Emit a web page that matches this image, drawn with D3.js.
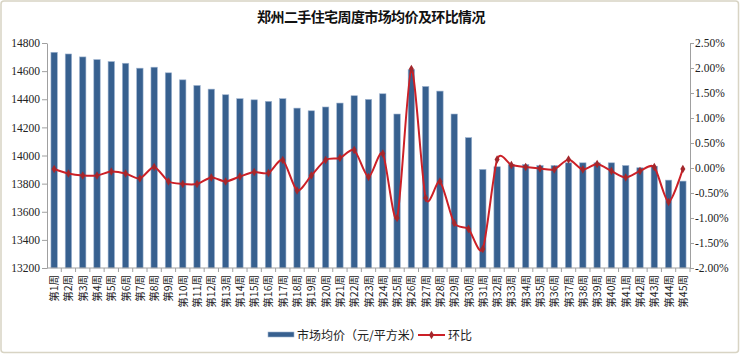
<!DOCTYPE html>
<html lang="zh">
<head>
<meta charset="UTF-8" />
<title>郑州二手住宅周度市场均价及环比情况</title>
<script src="https://cdn.jsdelivr.net/npm/d3@7/dist/d3.min.js"></script>
<style>
  body { margin: 0; background: #fff; }
  svg { display: block; }
</style>
</head>
<body>
<script>
// data
var weeks = [];
for (var k = 1; k <= 45; k++) weeks.push("第" + k + "周");

var prices = [14734, 14722, 14701, 14682, 14668, 14656, 14621, 14628, 14588, 14538,
              14498, 14472, 14432, 14404, 14396, 14385, 14404, 14337, 14318, 14345,
              14373, 14425, 14399, 14439, 14295, 14612, 14491, 14458, 14295, 14127,
              13901, 13920, 13936, 13936, 13929, 13929, 13948, 13948, 13948, 13948,
              13929, 13913, 13924, 13825, 13818];

var changes = [-0.02, -0.11, -0.15, -0.15, -0.07, -0.11, -0.21, 0.02, -0.27, -0.32,
               -0.32, -0.19, -0.27, -0.17, -0.08, -0.10, 0.16, -0.45, -0.15, 0.16,
               0.20, 0.36, -0.18, 0.29, -1.00, 1.98, -0.60, -0.27, -1.10, -1.22,
               -1.62, 0.17, 0.06, 0.02, -0.01, -0.03, 0.17, -0.03, 0.08, -0.06,
               -0.19, -0.06, 0.02, -0.68, -0.02];

var leftTicks = [13200, 13400, 13600, 13800, 14000, 14200, 14400, 14600, 14800];
var rightTicks = [-2, -1.5, -1, -0.5, 0, 0.5, 1, 1.5, 2, 2.5];

var W = 740, H = 354;
var margin = {top: 43, right: 50, bottom: 86, left: 47};
var pw = W - margin.left - margin.right;
var ph = H - margin.top - margin.bottom;

var svg = d3.select("body").append("svg").attr("width", W).attr("height", H);

// outer frame
svg.append("rect")
  .attr("x", 1).attr("y", 1).attr("width", W - 2.5).attr("height", H - 2.5)
  .attr("rx", 3)
  .attr("fill", "#fff").attr("stroke", "#d8d4c4").attr("stroke-width", 1.5);

svg.append("text")
  .attr("x", 371).attr("y", 22)
  .attr("text-anchor", "middle")
  .style("font-family", "'Noto Sans CJK SC', sans-serif")
  .style("font-weight", "bold").style("font-size", "14px")
  .style("letter-spacing", "-0.6px")
  .attr("fill", "#111")
  .text("郑州二手住宅周度市场均价及环比情况");

var g = svg.append("g").attr("transform", "translate(" + margin.left + "," + margin.top + ")");

var x = d3.scaleBand().domain(weeks).range([0, pw]);
var yL = d3.scaleLinear().domain([13200, 14800]).range([ph, 0]);
var yR = d3.scaleLinear().domain([-2, 2.5]).range([ph, 0]);

// bars
g.selectAll(".bar").data(prices).enter().append("rect")
  .attr("class", "bar")
  .attr("x", function(d, i) { return x(weeks[i]) + x.bandwidth() / 2 - 3.2; })
  .attr("y", function(d) { return yL(d); })
  .attr("width", 6.4)
  .attr("height", function(d) { return ph - yL(d); })
  .attr("fill", "#37608f")
  .attr("stroke", "#9fb4d0").attr("stroke-width", 0.6);

// left axis
var axL = g.append("g")
  .call(d3.axisLeft(yL).tickValues(leftTicks).tickSize(5).tickSizeOuter(0).tickFormat(d3.format("d")));
// right axis
var axR = g.append("g").attr("transform", "translate(" + pw + ",0)")
  .call(d3.axisRight(yR).tickValues(rightTicks).tickSize(4).tickSizeOuter(0)
    .tickFormat(function(d) { return d.toFixed(2) + "%"; }));
[axL, axR].forEach(function(a) {
  a.select(".domain").attr("stroke", "#a0a0a0");
  a.selectAll(".tick line").attr("stroke", "#a0a0a0");
  a.selectAll("text")
    .style("font-family", "'Liberation Serif', serif").style("font-size", "11.5px")
    .attr("fill", "#222");
});
axR.selectAll("text").attr("x", 5);
axL.selectAll("text").attr("x", -7);

// bottom axis line with boundary ticks
g.append("line").attr("x1", 0).attr("x2", pw).attr("y1", ph).attr("y2", ph)
  .attr("stroke", "#a0a0a0");
g.selectAll(".xtick").data(weeks).enter().append("line")
  .attr("x1", function(d) { return x(d) + x.bandwidth(); })
  .attr("x2", function(d) { return x(d) + x.bandwidth(); })
  .attr("y1", ph).attr("y2", ph + 4)
  .attr("stroke", "#a0a0a0");

g.selectAll(".xlab").data(weeks).enter().append("text")
  .attr("transform", function(d) {
    return "translate(" + (x(d) + x.bandwidth() / 2 + 4) + "," + (ph + 7) + ") rotate(-90)";
  })
  .attr("text-anchor", "end")
  .style("font-family", "'Noto Sans CJK SC', sans-serif").style("font-size", "10.5px")
  .attr("fill", "#222")
  .text(function(d) { return d; });

// ratio line
var line = d3.line()
  .x(function(d, i) { return x(weeks[i]) + x.bandwidth() / 2; })
  .y(function(d) { return yR(d); })
  .curve(d3.curveCardinal.tension(0.25));
g.append("path").datum(changes)
  .attr("d", line)
  .attr("fill", "none").attr("stroke", "#cc2027").attr("stroke-width", 2);

var diamond = d3.symbol().type(d3.symbolDiamond).size(22);
g.selectAll(".pt").data(changes).enter().append("path")
  .attr("transform", function(d, i) {
    return "translate(" + (x(weeks[i]) + x.bandwidth() / 2) + "," + yR(d) + ")";
  })
  .attr("d", diamond)
  .attr("fill", "#a3272c");

// legend
var lg = svg.append("g").style("font-family", "'Noto Sans CJK SC', sans-serif").style("font-size", "12px");
lg.append("rect").attr("x", 268).attr("y", 332).attr("width", 26).attr("height", 5)
  .attr("fill", "#37608f").attr("stroke", "#9fb4d0").attr("stroke-width", 0.6);
lg.append("text").attr("x", 297).attr("y", 339.5).attr("fill", "#222").text("市场均价（元/平方米）");
lg.append("line").attr("x1", 418).attr("x2", 445).attr("y1", 335).attr("y2", 335)
  .attr("stroke", "#cc2027").attr("stroke-width", 2);
lg.append("path").attr("transform", "translate(431.5,335)").attr("d", diamond).attr("fill", "#a3272c");
lg.append("text").attr("x", 448).attr("y", 339.5).attr("fill", "#222").text("环比");
</script>
</body>
</html>
